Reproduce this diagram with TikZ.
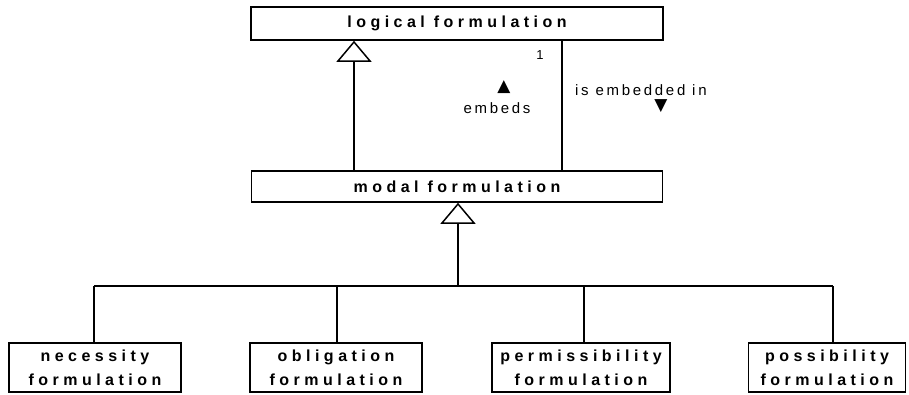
\documentclass[tikz,border=0pt]{standalone}
\usepackage{fontspec}
\setmainfont{Liberation Sans}
\newfontfamily\spreadfont{Liberation Sans}[LetterSpace=28]
\newfontfamily\labelfont{Liberation Sans}[LetterSpace=18]
\newfontfamily\symfont{DejaVu Sans}
\usetikzlibrary{arrows.meta}

\tikzset{
  classbox/.style={draw, line width=1.6pt, inner sep=0pt, align=center,
    font=\spreadfont\bfseries\fontsize{16}{24}\selectfont},
  inherit/.style={line width=1.8pt, -{Triangle[open, width=35pt, length=21pt, line width=1.5pt]}},
  assoc/.style={line width=1.8pt},
  rolelabel/.style={inner sep=0pt, font=\labelfont\fontsize{15}{16}\selectfont},
  dirmark/.style={inner sep=0pt, font=\symfont\fontsize{17}{17}\selectfont},
}

\begin{document}
\begin{tikzpicture}[x=1pt, y=-1pt]
\useasboundingbox (0,0) rectangle (909,394);
% classes
\node[classbox, minimum width=412pt, minimum height=33pt] (logical) at (457,23.5) {logical formulation};
\node[classbox, minimum width=411pt, minimum height=31pt] (modal) at (457,186.5) {modal formulation};
\node[classbox, minimum width=172pt, minimum height=49pt] (necessity) at (95,367.5) {necessity\\formulation};
\node[classbox, minimum width=172pt, minimum height=49pt] (obligation) at (336,367.5) {obligation\\formulation};
\node[classbox, minimum width=178pt, minimum height=49pt] (permissibility) at (581,367.5) {permissibility\\formulation};
\node[classbox, minimum width=157pt, minimum height=49pt] (possibility) at (827,367.5) {possibility\\formulation};
% modal -> logical
\coordinate (genx) at (354,0);
\coordinate (assocx) at (562,0);
\draw[inherit] (modal.north -| genx) -- (logical.south -| genx);
\draw[assoc] (logical.south -| assocx) -- (modal.north -| assocx);
\node[rolelabel, font=\labelfont\fontsize{13}{14}\selectfont] (mult) at (540,55) {1};
\node[dirmark] (upmark) at (504,87) {▲};
\node[rolelabel] (embeds) at (497,108) {embeds};
\node[rolelabel, anchor=west] (embedded) at (575,90) {is embedded in};
\node[dirmark] (downmark) at (661,106) {▼};
% subtypes of modal formulation
\coordinate (fork) at (458,286);
\draw[inherit] (fork) -- (fork |- modal.south);
\foreach \kind/\x in {necessity/94, obligation/337, permissibility/584, possibility/833} {
  \coordinate (tap-\kind) at (\x,286);
  \draw[assoc] (tap-\kind) -- (tap-\kind |- \kind.north);
}
\draw[assoc] (tap-necessity) -- (tap-possibility);
\end{tikzpicture}
\end{document}
